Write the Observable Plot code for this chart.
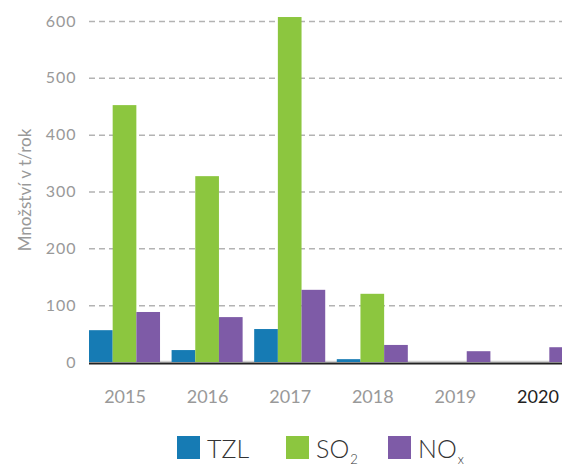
<!DOCTYPE html>
<html><head><meta charset="utf-8">
<script src="https://cdn.jsdelivr.net/npm/d3@7"></script>
<script src="https://cdn.jsdelivr.net/npm/@observablehq/plot@0.6"></script>
<style>
body{margin:0;background:#fff;font-family:Lato,sans-serif}
#wrap{width:562px;height:468px;overflow:hidden;position:relative;background:#fff}
#chart svg{display:block;max-width:none !important;width:573px;height:420px}
#chart svg g[aria-label="y-axis tick label"] text{letter-spacing:1px}
.legend{display:flex;align-items:center;padding-left:177px;margin-top:16px;height:23px}
.item{display:flex;align-items:center;font-family:Lato,sans-serif;font-weight:300;font-size:25px;color:#333;white-space:nowrap}
.item:nth-child(1){width:109px}
.item:nth-child(2){width:102px}
.sw{width:23px;height:23px;margin-right:7px;flex:none}
.item sub{font-size:13px;vertical-align:-6px;line-height:0;margin-left:1px}
</style></head><body>
<div id="wrap"><div id="chart"></div><div class="legend" id="legend"></div></div>
<script>
const years = ["2015","2016","2017","2018","2019","2020"];
const seriesNames = ["TZL","SO2","NOx"];
const seriesLabels = ["TZL","SO<sub>2</sub>","NO<sub>x</sub>"];
const tzl = [56, 21, 58, 5, 0, 0];
const so2 = [452, 327, 607, 120, 0, 0];
const nox = [88, 79, 127, 30, 19, 26];
const yTicks = [0, 100, 200, 300, 400, 500, 600];
const colors = ["#167bb4", "#8cc63f", "#7e5ba7"];
const yLabel = "Množství v t/rok";
const highlightYear = "2020";

const W = 573, H = 420, mL = 89, mR = 0, mT = 21, mB = 58;
const padInner = 0.14;
const step = (W - mL - mR) / (years.length - padInner);
const bw = step * (1 - padInner);
const third = bw / 3;

const rows = [];
years.forEach((y, i) => {
  rows.push({year: y, series: "TZL", value: tzl[i]});
  rows.push({year: y, series: "SO2", value: so2[i]});
  rows.push({year: y, series: "NOx", value: nox[i]});
});

function bars(name, k) {
  return Plot.barY(rows.filter(d => d.series === name && d.value > 0), {
    x: "year", y: "value", fill: colors[k],
    insetLeft: k * third, insetRight: (2 - k) * third
  });
}

const plot = Plot.plot({
  width: W, height: H,
  marginLeft: mL, marginRight: mR, marginTop: mT, marginBottom: mB,
  style: {fontFamily: "Lato, sans-serif", fontSize: "15px", color: "#999", background: "#fff", overflow: "visible"},
  x: {domain: years, paddingInner: padInner, paddingOuter: 0, round: false, axis: null},
  y: {domain: [0, 600], axis: null},
  marks: [
    Plot.ruleY(yTicks.filter(t => t > 0), {stroke: "#b3b3b3", strokeWidth: 1.5, strokeDasharray: "6,4"}),
    Plot.ruleY([0], {stroke: "#cfcfcf", strokeWidth: 1.5, dy: -1}),
    bars("TZL", 0), bars("SO2", 1), bars("NOx", 2),
    Plot.ruleY([0], {stroke: "#222", strokeWidth: 2, dy: 1}),
    Plot.axisY({ticks: yTicks, tickSize: 0, tickPadding: 13, fontSize: 16, label: null, fill: "#999"}),
    Plot.text(years, {x: d => d, y: () => 0, dy: 35, fontSize: 18,
      fill: d => d === highlightYear ? "#222" : "#999"}),
    Plot.text([yLabel], {frameAnchor: "left", textAnchor: "middle", rotate: -90, dx: -64, dy: -2, fontSize: 17, fill: "#999"})
  ]
});
document.getElementById("chart").appendChild(plot);

const leg = document.getElementById("legend");
seriesLabels.forEach((lab, k) => {
  const it = document.createElement("div");
  it.className = "item";
  it.innerHTML = `<span class="sw" style="background:${colors[k]}"></span><span>${lab}</span>`;
  leg.appendChild(it);
});
</script>
</body></html>
